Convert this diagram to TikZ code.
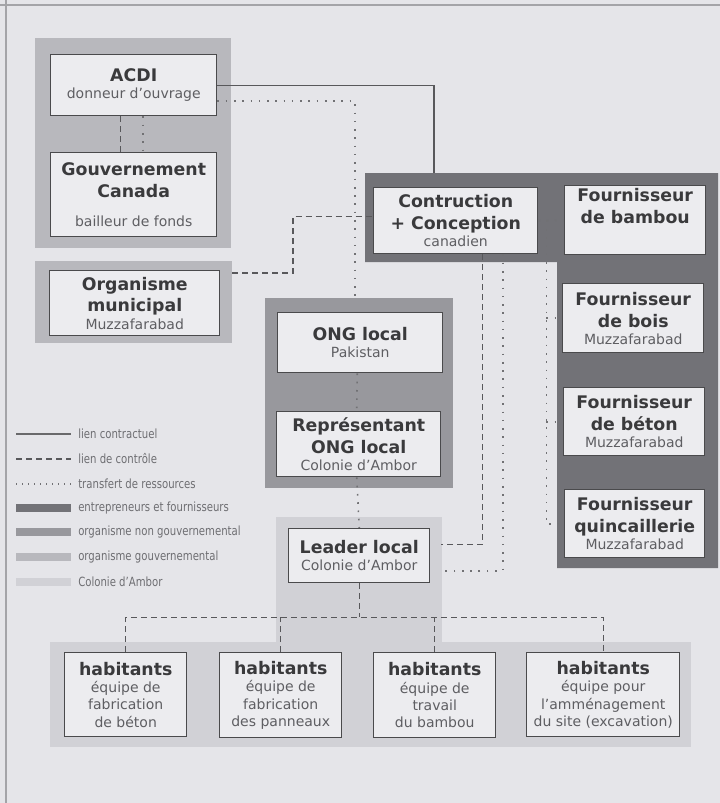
\documentclass[tikz,border=0pt]{standalone}
\usepackage{fontspec}
\setmainfont{DejaVu Sans}
\newfontfamily\legfont{DejaVu Sans}[FakeStretch=0.8]
\usepackage{xcolor}
\usepackage{tikz}
\usetikzlibrary{calc}

\definecolor{fond}{HTML}{E5E5E9}
\definecolor{boite}{HTML}{ECECEF}
\definecolor{trait}{HTML}{4A4A4C}
\definecolor{lien}{HTML}{58585B}
\definecolor{txt}{HTML}{3A3A3C}
\definecolor{soustxt}{HTML}{5E5E62}
\definecolor{legtxt}{HTML}{6E6E72}
\definecolor{cadre}{HTML}{A4A4A8}
\definecolor{entrep}{HTML}{727277}
\definecolor{ong}{HTML}{98989D}
\definecolor{gouv}{HTML}{B8B8BD}
\definecolor{colon}{HTML}{D1D1D6}

\pgfdeclarelayer{bg}
\pgfsetlayers{bg,main}

\newcommand{\titre}[1]{{\fontsize{13}{16}\selectfont\bfseries\color{txt}#1}}

\begin{document}
\begin{tikzpicture}[x=0.75pt,y=-0.75pt,
   box/.style={draw=trait,fill=boite,line width=1.1pt,align=center,inner sep=1pt,
     text=soustxt,font=\fontsize{10.5}{13}\selectfont},
   nw/.style={anchor=north west},
   sz/.style 2 args={minimum width=#1*0.75pt,minimum height=#2*0.75pt},
   grp/.style={fill=#1,inner sep=0pt,outer sep=0pt,nw},
   contrat/.style={draw=lien,line width=1pt},
   controle/.style={draw=lien,line width=1.1pt,dash pattern=on 4.5pt off 3pt},
   transfert/.style={draw=lien!85,line width=1.2pt,dash pattern=on 1.2pt off 5pt},
   legende/.style={anchor=west,inner sep=0pt,text=legtxt,font=\legfont\fontsize{9.5}{11}\selectfont}]
  \useasboundingbox (0,0) rectangle (720,803);

  % fonds des groupes
  \begin{pgfonlayer}{bg}
    \fill[fond] (0,0) rectangle (720,803);
    \draw[cadre,line width=0.8pt] (0,5) -- (720,5) (6,0) -- (6,803);
    \node[grp=gouv,sz={196}{210}] (gg) at (35,38) {};
    \node[grp=gouv,sz={197}{82}] (mg) at (35,261) {};
    \node[grp=ong,sz={188}{190}] (og) at (265,298) {};
    \node[grp=colon,sz={166}{125}] (lg) at (276,517) {};
    \node[grp=colon,sz={641}{105}] (hg) at (50,642) {};
    \fill[entrep] (365,173) -- (718,173) -- (718,568) -- (557,568)
      -- (557,262) -- (365,262) -- cycle;
  \end{pgfonlayer}

  % acteurs
  \node[box,nw,sz={166}{61}] (acdi) at (50,54) {\titre{ACDI}\\donneur d’ouvrage};
  \node[box,nw,sz={166}{84}] (gouv) at (50,152)
    {\titre{Gouvernement}\\[3pt]\titre{Canada}\\[9pt]bailleur de fonds};
  \node[box,nw,sz={170}{65}] (munic) at (49,270)
    {\titre{Organisme}\\[3pt]\titre{municipal}\\Muzzafarabad};
  \node[box,nw,sz={164}{66}] (cc) at (373,187)
    {\titre{Contruction}\\[3.5pt]\titre{+ Conception}\\canadien};
  \node[box,nw,sz={141}{69}] (bamb) at (564,185)
    {\titre{Fournisseur}\\[3.5pt]\titre{de bambou}\\[8pt]};
  \node[box,nw,sz={141}{69}] (bois) at (562,283)
    {\titre{Fournisseur}\\[3.5pt]\titre{de bois}\\Muzzafarabad};
  \node[box,nw,sz={141}{68}] (beton) at (563,387)
    {\titre{Fournisseur}\\[3.5pt]\titre{de béton}\\Muzzafarabad};
  \node[box,nw,sz={140}{68}] (quinc) at (564,489)
    {\titre{Fournisseur}\\[3.5pt]\titre{quincaillerie}\\Muzzafarabad};
  \node[box,nw,sz={165}{60}] (ongl) at (277,312) {\titre{ONG local}\\Pakistan};
  \node[box,nw,sz={164}{65}] (rep) at (276,411)
    {\titre{Représentant}\\[3pt]\titre{ONG local}\\Colonie d’Ambor};
  \node[box,nw,sz={141}{54}] (leader) at (288,528) {\titre{Leader local}\\Colonie d’Ambor};
  \node[box,nw,sz={122}{84}] (hab1) at (64,652)
    {\titre{habitants}\\équipe de\\fabrication\\de béton};
  \node[box,nw,sz={122}{85}] (hab2) at (219,652)
    {\titre{habitants}\\équipe de\\fabrication\\des panneaux};
  \node[box,nw,sz={122}{85}] (hab3) at (373,652)
    {\titre{habitants}\\équipe de\\travail\\du bambou};
  \node[box,nw,sz={153}{84}] (hab4) at (526,652)
    {\titre{habitants}\\équipe pour\\l’amménagement\\du site (excavation)};

  % liens
  \coordinate (entree) at (434,173);
  \coordinate (fr) at ($(cc.east)+(8,0)$);
  \coordinate (hb) at ($(leader.south)+(0,34)$);
  \begin{pgfonlayer}{bg}
    \draw[contrat] (acdi.east) -| (entree);
    \draw[transfert] ($(acdi.east)+(0,16)$) -| ($(og.north)+(-4,0)$);
    \draw[controle] ($(acdi.south)+(-13,0)$) -- ($(gouv.north)+(-13,0)$);
    \draw[transfert] ($(acdi.south)+(9,0)$) -- ($(gouv.north)+(9,0)$);
    \draw[controle] ($(mg.north east)+(0,12)$) -| ($(cc.west)+(-80,-4)$) -- ($(cc.west)+(0,-4)$);
    \draw[transfert] (cc.east) -- (bamb.west);
    \draw[transfert] (fr) |- (quinc.west);
    \draw[transfert] (fr |- bois.west) -- (bois.west);
    \draw[transfert] (fr |- beton.west) -- (beton.west);
    \draw[controle] ($(cc.south)+(27,0)$) |- ($(leader.east)+(11,-11)$);
    \draw[transfert] ($(cc.south)+(47,0)$) |- ($(leader.east)+(11,15)$);
    \draw[transfert] ($(ongl.south)+(-3,0)$) -- ($(rep.north)+(-2,0)$);
    \draw[transfert] ($(rep.south)+(-2,0)$) -- (leader.north);
    \draw[controle] (leader.south) -- (hb);
    \draw[controle] (hab1.north) -- (hab1.north |- hb) -- (hab4.north |- hb) -- (hab4.north);
    \draw[controle] (hab2.north) -- (hab2.north |- hb);
    \draw[controle] (hab3.north) -- (hab3.north |- hb);
  \end{pgfonlayer}

  % légende
  \draw[contrat,draw=lien!90] (16,434) -- (71,434);
  \node[legende] (l1) at (78,434) {lien contractuel};
  \draw[controle,line width=0.9pt] (16,459) -- (71,459);
  \node[legende] (l2) at (78,459) {lien de contrôle};
  \draw[transfert,line width=0.8pt,dash pattern=on 1pt off 3.5pt] (16,484) -- (71,484);
  \node[legende] (l3) at (78,484) {transfert de ressources};
  \foreach \c/\t [count=\k from 3] in {entrep/entrepreneurs et fournisseurs,
      ong/organisme non gouvernemental,gouv/organisme gouvernemental,colon/Colonie d’Ambor}
  {
    \draw[draw=\c,line width=6pt] (16,434+24.6*\k) -- (71,434+24.6*\k);
    \node[legende] at (78,434+24.6*\k) {\t};
  }
\end{tikzpicture}
\end{document}
